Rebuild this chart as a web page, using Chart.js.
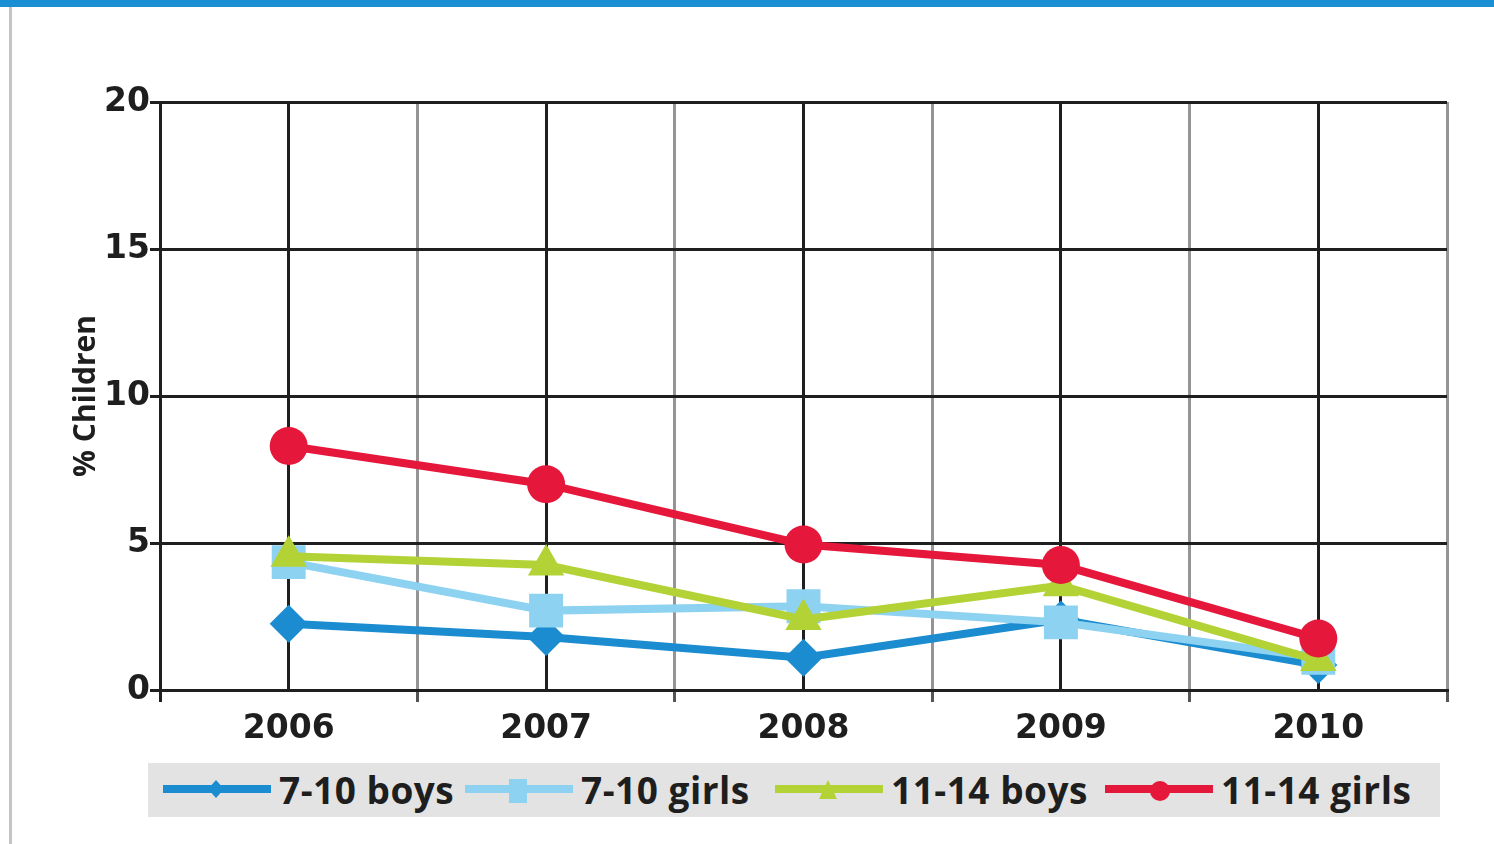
<!DOCTYPE html>
<html>
<head>
<meta charset="utf-8">
<script src="https://cdn.jsdelivr.net/npm/chart.js@4.4.1/dist/chart.umd.min.js"></script>
<style>
  html,body{margin:0;padding:0;background:#fff;width:1494px;height:844px;overflow:hidden;}
  #topbar{position:absolute;left:0;top:0;width:1494px;height:7px;background:#1b8fd3;}
  #leftbar{position:absolute;left:9px;top:7px;width:3px;height:837px;background:#c4c4c4;}
  #wrap{position:absolute;left:0;top:0;width:1494px;height:844px;}
  #legend{position:absolute;left:148px;top:763px;width:1292px;height:54px;background:#e3e3e3;
    font-family:"Open Sans",sans-serif;font-weight:bold;font-size:37px;color:#1e1e1e;}
  .item{position:absolute;top:0;height:54px;display:flex;align-items:center;}
  .item svg{display:block;}
  .item span{margin-left:8px;letter-spacing:0.5px;line-height:54px;}
</style>
</head>
<body>
<div id="topbar"></div>
<div id="leftbar"></div>
<div id="wrap"><canvas id="c" width="1494" height="844"></canvas></div>
<div id="legend"></div>
<script>
const years = ["2006","2007","2008","2009","2010"];
const boys710  = [2.25, 1.8, 1.1, 2.4, 0.85];
const girls710 = [4.35, 2.7, 2.85, 2.3, 1.1];
const boys1114 = [4.55, 4.25, 2.4, 3.55, 1.0];
const girls1114= [8.3, 7.0, 4.95, 4.25, 1.75];
const seriesNames = ["7-10 boys","7-10 girls","11-14 boys","11-14 girls"];
const yTicks = [0,5,10,15,20];

const colors = ["#1a8ccf","#8ed2f1","#b3d236","#e5173b"];
const styles = ["rectRot","rect","triangle","circle"];
const radii = [19,24,21,19];
const allData = [boys710, girls710, boys1114, girls1114];

const datasets = allData.map((d,i)=>({
  label: seriesNames[i],
  data: d,
  borderColor: colors[i],
  backgroundColor: colors[i],
  pointBackgroundColor: colors[i],
  pointBorderColor: colors[i],
  pointStyle: styles[i],
  pointRadius: radii[i],
  pointBorderWidth: 0,
  borderWidth: 8,
  tension: 0,
  order: 4-i,
  xAxisID: 'x',
}));

const dark = "#1f1f1f";
const gray = "#959595";

new Chart(document.getElementById('c'), {
  type: 'line',
  data: { labels: years, datasets },
  options: {
    responsive: false,
    animation: false,
    events: [],
    layout: { padding: { left: 0, right: 47, top: 102, bottom: 94 } },
    plugins: { legend: { display: false }, tooltip: { enabled: false } },
    scales: {
      x: {
        type: 'category',
        position: 'bottom',
        offset: true,
        grid: {
          offset: true,
          color: (ctx) => (ctx.index === 0 || ctx.index === years.length) ? dark : gray,
          lineWidth: 3,
          drawTicks: true,
          tickLength: 12,
          tickColor: (ctx) => (ctx.index === 0 || ctx.index === years.length) ? dark : "#555",
        },
        border: { display: true, color: dark, width: 3 },
        ticks: {
          color: "#1e1e1e",
          font: { family: "DejaVu Sans", weight: "bold", size: 33 },
          padding: 8,
          maxRotation: 0,
        },
        afterFit: (s) => { s.height = 60; },
      },
      xTop: {
        type: 'category',
        labels: years,
        position: 'top',
        offset: true,
        grid: { offset: false, color: dark, lineWidth: 3, drawTicks: false },
        border: { display: false },
        ticks: { display: false },
        afterFit: (s) => { s.height = 0; },
      },
      y: {
        min: 0, max: 20,
        afterBuildTicks: (s) => { s.ticks = yTicks.map(v => ({ value: v })); },
        grid: { color: dark, lineWidth: 3, drawTicks: true, tickLength: 10, tickColor: dark },
        border: { display: true, color: dark, width: 3 },
        ticks: {
          color: "#1e1e1e",
          font: { family: "DejaVu Sans", weight: "bold", size: 33 },
          padding: 0,
        },
        title: {
          display: true,
          text: "% Children",
          color: "#1e1e1e",
          font: { family: "Open Sans", weight: "bold", size: 30 },
          padding: { top: 68, bottom: 0 },
        },
        afterFit: (s) => { s.width = 160; },
      }
    }
  }
});

// legend
const legend = document.getElementById('legend');
function markerSvg(i){
  const c = colors[i];
  let m = '';
  if (styles[i] === 'rectRot') m = `<polygon points="53,6 61,15 53,24 45,15" fill="${c}"/>`;
  else if (styles[i] === 'rect') m = `<rect x="44" y="5" width="18" height="24" fill="${c}"/>`;
  else if (styles[i] === 'triangle') m = `<polygon points="53,6 62,25 44,25" fill="${c}"/>`;
  else m = `<circle cx="55" cy="17" r="10" fill="${c}"/>`;
  return `<svg width="108" height="32" viewBox="0 0 108 32"><line x1="0" y1="15" x2="108" y2="15" stroke="${c}" stroke-width="8"/>${m}</svg>`;
}
const itemLeft = [15, 317, 627, 957];
seriesNames.forEach((n,i)=>{
  const d = document.createElement('div');
  d.className = 'item';
  d.style.left = itemLeft[i] + 'px';
  d.innerHTML = markerSvg(i) + `<span>${n}</span>`;
  legend.appendChild(d);
});
</script>
</body>
</html>
